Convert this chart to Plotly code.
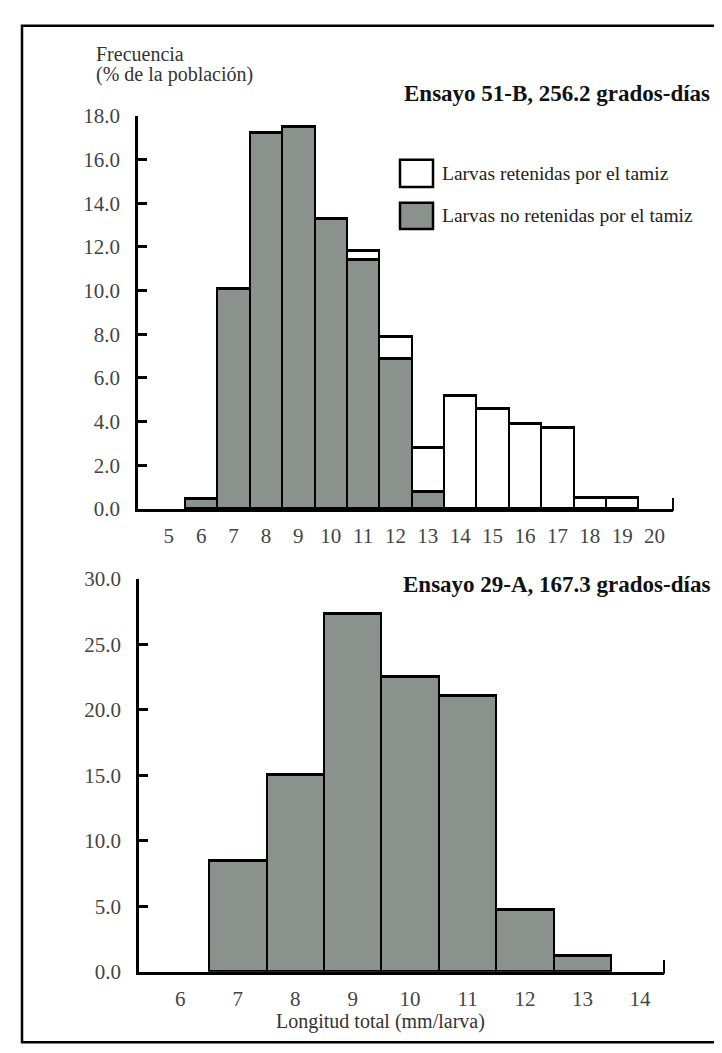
import plotly.graph_objects as go

# ---------------- data ----------------
longitud_51B = [6, 7, 8, 9, 10, 11, 12, 13, 14, 15, 16, 17, 18, 19]
no_retenidas_51B = [0.45, 10.1, 17.2, 17.5, 13.3, 11.4, 6.9, 0.8, None, None, None, None, None, None]
retenidas_51B = [None, None, None, None, None, 0.4, 1.0, 2.0, 5.2, 4.6, 3.9, 3.7, 0.5, 0.5]

longitud_29A = [7, 8, 9, 10, 11, 12, 13]
no_retenidas_29A = [8.5, 15.0, 27.3, 22.5, 21.1, 4.7, 1.2]

xticks_51B = list(range(5, 21))
yticks_51B = [0, 2, 4, 6, 8, 10, 12, 14, 16, 18]
xticks_29A = list(range(6, 15))
yticks_29A = [0, 5, 10, 15, 20, 25, 30]

serie_retenidas = "Larvas retenidas por el tamiz"
serie_no_retenidas = "Larvas no retenidas por el tamiz"
titulo_51B = "Ensayo 51-B, 256.2 grados-días"
titulo_29A = "Ensayo 29-A, 167.3 grados-días"
ytitle = ["Frecuencia", "(% de la población)"]
xtitle = "Longitud total (mm/larva)"

# ---------------- style ----------------
W, H = 722, 1053
FONT = "Liberation Serif, Times New Roman, serif"
GRAY = "#8b928e"
LW = 2.5


def px(x):
    return x / W


def py(y):
    return 1 - y / H


fig = go.Figure()

fig.add_trace(go.Bar(x=longitud_51B, y=no_retenidas_51B, name=serie_no_retenidas,
                     marker=dict(color=GRAY, line=dict(color="black", width=LW)),
                     xaxis="x", yaxis="y", showlegend=False))
fig.add_trace(go.Bar(x=longitud_51B, y=retenidas_51B, name=serie_retenidas,
                     marker=dict(color="white", line=dict(color="black", width=LW)),
                     xaxis="x", yaxis="y", showlegend=False))
fig.add_trace(go.Bar(x=longitud_29A, y=no_retenidas_29A, name=serie_no_retenidas,
                     marker=dict(color=GRAY, line=dict(color="black", width=LW)),
                     xaxis="x2", yaxis="y2", showlegend=False))

tickfont = dict(family=FONT, size=21, color="#444")

common_x = dict(showline=True, linecolor="black", linewidth=LW, ticks="",
                showgrid=False, zeroline=False, tickfont=tickfont,
                ticklabelstandoff=6)
common_y = dict(showline=True, linecolor="black", linewidth=LW, ticks="inside",
                ticklen=9, tickwidth=LW, tickcolor="black", showgrid=False,
                zeroline=False, tickfont=tickfont, tickformat=".1f",
                ticklabelstandoff=11)

fig.update_layout(
    width=W, height=H,
    margin=dict(l=0, r=0, t=0, b=0),
    paper_bgcolor="white", plot_bgcolor="rgba(0,0,0,0)",
    barmode="stack", bargap=0,
    showlegend=False,
    font=dict(family=FONT, color="#222"),
    xaxis=dict(domain=[px(130), px(665)], range=[4.05, 20.57], anchor="y",
               tickvals=xticks_51B, ticktext=[str(v) for v in xticks_51B], **common_x),
    yaxis=dict(domain=[py(500.5), py(98)], range=[0, 18], anchor="x",
               tickvals=yticks_51B, **common_y),
    xaxis2=dict(domain=[px(131), px(656)], range=[5.28, 14.42], anchor="y2",
                tickvals=xticks_29A, ticktext=[str(v) for v in xticks_29A], **common_x),
    yaxis2=dict(domain=[py(974), py(572)], range=[0, 30], anchor="x2",
                tickvals=yticks_29A, **common_y),
)

shapes = []
# outer frame
shapes.append(dict(type="rect", xref="paper", yref="paper",
                   x0=px(14), x1=px(718), y0=py(1046), y1=py(6),
                   line=dict(color="black", width=LW), fillcolor="rgba(0,0,0,0)"))
# small end ticks of x axes
shapes.append(dict(type="line", xref="x domain", yref="y domain",
                   x0=1, x1=1, y0=-0.005, y1=0.028, line=dict(color="black", width=2)))
shapes.append(dict(type="line", xref="x2 domain", yref="y2 domain",
                   x0=1, x1=1, y0=-0.005, y1=0.03, line=dict(color="black", width=2)))
# legend boxes
shapes.append(dict(type="rect", xref="paper", yref="paper",
                   x0=px(392), x1=px(425), y0=py(171), y1=py(143),
                   line=dict(color="black", width=LW), fillcolor="white"))
shapes.append(dict(type="rect", xref="paper", yref="paper",
                   x0=px(392), x1=px(425), y0=py(214), y1=py(187),
                   line=dict(color="black", width=LW), fillcolor=GRAY))
fig.update_layout(shapes=shapes)

ann = []
ann.append(dict(text=serie_retenidas, x=px(432), y=py(157), xanchor="left", yanchor="middle",
                font=dict(family=FONT, size=19.5, color="#222")))
ann.append(dict(text=serie_no_retenidas, x=px(432), y=py(200), xanchor="left", yanchor="middle",
                font=dict(family=FONT, size=19.5, color="#222")))
ann.append(dict(text="<b>" + titulo_51B + "</b>", x=px(704), y=py(75), xanchor="right",
                yanchor="middle", font=dict(family=FONT, size=23, color="#111")))
ann.append(dict(text="<b>" + titulo_29A + "</b>", x=px(704), y=py(578), xanchor="right",
                yanchor="middle", font=dict(family=FONT, size=23, color="#111")))
ann.append(dict(text=ytitle[0], x=px(86), y=py(35), xanchor="left", yanchor="middle",
                font=dict(family=FONT, size=20, color="#333")))
ann.append(dict(text=ytitle[1], x=px(86), y=py(56), xanchor="left", yanchor="middle",
                font=dict(family=FONT, size=20, color="#333")))
ann.append(dict(text=xtitle, x=px(372), y=py(1025), xanchor="center", yanchor="middle",
                font=dict(family=FONT, size=20, color="#333")))
for a in ann:
    a.update(xref="paper", yref="paper", showarrow=False)
fig.update_layout(annotations=ann)

fig.write_html("out.html")
